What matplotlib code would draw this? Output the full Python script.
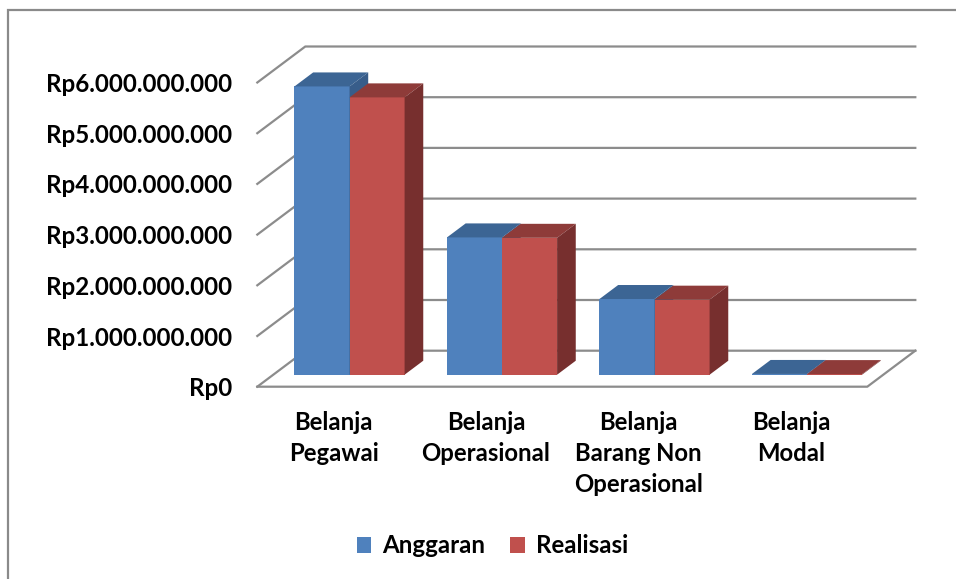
import matplotlib
matplotlib.use("Agg")
import matplotlib.pyplot as plt
from matplotlib.patches import Polygon, Rectangle

CATEGORIES = ["Belanja\nPegawai", "Belanja\nOperasional",
              "Belanja\nBarang Non\nOperasional", "Belanja\nModal"]
SERIES = ["Anggaran", "Realisasi"]
ANGGARAN = [5.686e9, 2.708e9, 1.493e9, 0.015e9]
REALISASI = [5.470e9, 2.700e9, 1.480e9, 0.012e9]
TICKS = [0, 1e9, 2e9, 3e9, 4e9, 5e9, 6e9]

FRONT = ["#4f81bd", "#c0504d"]
TOP = ["#3c6594", "#8e3b39"]
SIDE = ["#385d8a", "#772f2e"]
GRID = "#8c8c8c"
FONT = "Lato"

W, H = 956, 579
fig = plt.figure(figsize=(W / 100, H / 100), dpi=100)
ax = fig.add_axes([0, 0, 1, 1])
ax.axis("off")

# pixel scale: one category = 152.5 px, 1e9 = 50.7 px; floor front-left at (257.3, 386.7)
PX_X, PX_Y = 152.5, 50.7e-9
X0, Y0 = 257.3, 386.7
ax.set_xlim(-X0 / PX_X, (W - X0) / PX_X)
ax.set_ylim(-(H - Y0) / PX_Y, Y0 / PX_Y)

# oblique depth of the plot box
DX, DY = 48 / PX_X, 36 / PX_Y
n = len(CATEGORIES)

# side wall + back wall gridlines, floor outline
for v in TICKS:
    ax.plot([0, DX, n + DX], [v, v + DY, v + DY], color=GRID, lw=1.6, zorder=1)
ax.plot([0, n, n + DX], [0, 0, DY], color=GRID, lw=1.6, zorder=1)

# bars: front face from ax.bar, top/side faces projected
d0, d1 = 0.333, 0.722
gap, bw = 0.139, 0.361
ddx, ddy = (d1 - d0) * DX, (d1 - d0) * DY
base = d0 * DY
for s, vals in enumerate([ANGGARAN, REALISASI]):
    lefts = [i + gap + s * bw + d0 * DX for i in range(n)]
    ax.bar(lefts, vals, width=bw, bottom=base, align="edge", color=FRONT[s],
           lw=0, label=SERIES[s], zorder=2 + s)
    for xl, v in zip(lefts, vals):
        xr, yt = xl + bw, base + v
        ax.add_patch(Polygon([(xl, yt), (xr, yt), (xr + ddx, yt + ddy), (xl + ddx, yt + ddy)],
                             closed=True, facecolor=TOP[s], lw=0, zorder=2 + s))
        ax.add_patch(Polygon([(xr, base), (xr, yt), (xr + ddx, yt + ddy), (xr + ddx, base + ddy)],
                             closed=True, facecolor=SIDE[s], lw=0, zorder=2 + s))

# value labels on the front-left edge
for v in TICKS:
    lab = "Rp" + f"{v:,.0f}".replace(",", ".")
    ax.text(-25 / PX_X, v - 9.5 / PX_Y, lab, ha="right", va="baseline",
            fontsize=17.4, fontweight="bold", family=FONT, color="black")

# category labels
for i, lab in enumerate(CATEGORIES):
    ax.text(i + 0.5, -(411 - Y0) / PX_Y, lab, ha="center", va="top",
            fontsize=17.2, fontweight="bold", family=FONT, linespacing=1.43)

leg = ax.legend(loc="center", bbox_to_anchor=(0.515, 0.057), ncol=2, frameon=False,
                handlelength=0.6, handleheight=0.6, handletextpad=0.45, columnspacing=1.05,
                prop={"family": FONT, "weight": "bold", "size": 17.4})

# chart border (left and top edges visible)
fig.patches.append(Rectangle((8 / W, -0.1), 1.2, 1.1 - 10 / H, transform=fig.transFigure,
                             fill=False, edgecolor="#8a8a8a", lw=1.6))

fig.savefig("out.png", dpi=100)
